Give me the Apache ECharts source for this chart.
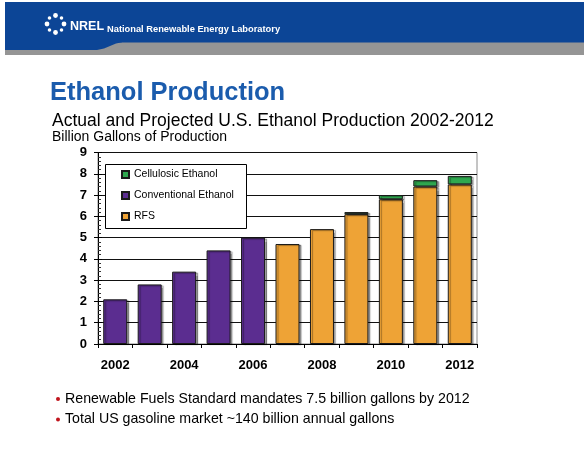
<!DOCTYPE html>
<html>
<head>
<meta charset="utf-8">
<script src="https://cdn.jsdelivr.net/npm/echarts@6/dist/echarts.min.js"></script>
<style>
html,body{margin:0;padding:0;background:#fff;}
#chart{width:584px;height:452px;}
</style>
</head>
<body>
<div id="chart"></div>
<script>
const years = ['2002','2003','2004','2005','2006','2007','2008','2009','2010','2011','2012'];
const conventional = [2.1, 2.8, 3.4, 4.4, 5.0, '-', '-', '-', '-', '-', '-'];
const rfs = ['-', '-', '-', '-', '-', 4.7, 5.4, 6.1, 6.8, 7.4, 7.5];
const cellulosic = ['-', '-', '-', '-', '-', '-', '-', 0.1, 0.2, 0.3, 0.4];
const legendNames = ['Cellulosic Ethanol', 'Conventional Ethanol', 'RFS'];
const titleText = 'Ethanol Production';
const subtitleText = 'Actual and Projected U.S. Ethanol Production 2002-2012';
const unitText = 'Billion Gallons of Production';
const bullets = ['Renewable Fuels Standard mandates 7.5 billion gallons by 2012', 'Total US gasoline market ~140 billion annual gallons'];

const FONT = '"Liberation Sans", Arial, sans-serif';
const chart = echarts.init(document.getElementById('chart'), null, {renderer: 'canvas'});

const barStyle = (c) => ({
  color: c, borderColor: '#1a1a1a', borderWidth: 1,
  shadowColor: 'rgba(0,0,0,0.35)', shadowOffsetX: 2, shadowOffsetY: 1, shadowBlur: 1
});

// NREL logo dots
const logo = [];
const cx = 55.5, cy = 24, r = 8.5;
for (let k = 0; k < 8; k++) {
  const a = k * Math.PI / 4;
  const big = k % 2 === 0;
  logo.push({type: 'circle', z: 10, shape: {cx: cx + r * Math.cos(a), cy: cy + r * Math.sin(a), r: big ? 2.4 : 1.8}, style: {fill: '#fff'}});
}

const option = {
  animation: false,
  backgroundColor: '#fff',
  textStyle: {fontFamily: FONT},
  grid: {left: 98, right: 107, top: 152.5, bottom: 108, show: true, borderColor: '#8a8a8a', borderWidth: 1, containLabel: false},
  legend: {
    data: legendNames, orient: 'vertical', left: 121, top: 168, padding: 0,
    itemWidth: 7, itemHeight: 7, itemGap: 8, icon: 'rect', z: 5,
    textStyle: {fontSize: 10.5, color: '#000', lineHeight: 13, fontFamily: FONT}
  },
  xAxis: {
    type: 'category', data: years, boundaryGap: true,
    axisLine: {lineStyle: {color: '#000', width: 1}},
    axisTick: {show: true, interval: 0, length: 4, lineStyle: {color: '#000'}},
    axisLabel: {interval: 1, color: '#000', fontWeight: 'bold', fontSize: 13, margin: 15, fontFamily: FONT},
    splitLine: {show: false}
  },
  yAxis: [{
    type: 'value', min: 0, max: 9, interval: 1, position: 'left',
    axisLine: {show: true, lineStyle: {color: '#000'}},
    axisTick: {show: true, length: 4, lineStyle: {color: '#000'}},
    axisLabel: {color: '#000', fontWeight: 'bold', fontSize: 13, margin: 11, fontFamily: FONT},
    splitLine: {show: true, lineStyle: {color: '#111', width: 1}}
  }, {
    type: 'value', min: 0, max: 9, interval: 1, position: 'left',
    axisLine: {show: false},
    axisTick: {show: true, inside: true, length: 4, lineStyle: {color: '#000'}},
    minorTick: {show: true, splitNumber: 5, length: 3, lineStyle: {color: '#333'}},
    axisLabel: {show: false},
    splitLine: {show: false}
  }],
  series: [
    {name: 'Conventional Ethanol', type: 'bar', stack: 'total', data: conventional, barWidth: 24, itemStyle: barStyle('#5b2d90')},
    {name: 'RFS', type: 'bar', stack: 'total', data: rfs, barWidth: 24, itemStyle: barStyle('#eea336')},
    {name: 'Cellulosic Ethanol', type: 'bar', stack: 'total', data: cellulosic, barWidth: 24, itemStyle: barStyle('#2fa84f')}
  ],
  graphic: [
    // header band
    {type: 'rect', z: 1, shape: {x: 5, y: 42, width: 579, height: 13}, style: {fill: '#959595'}},
    {type: 'rect', z: 2, shape: {x: 5, y: 2, width: 579, height: 40.5}, style: {fill: '#0c4596'}},
    {type: 'polygon', z: 2, shape: {points: [[5, 42], [5, 50], [97, 50], [104, 48.5], [110, 46], [116, 43.5], [122, 42.2], [122, 42]]}, style: {fill: '#0c4596'}},
    ...logo,
    {type: 'text', z: 10, style: {x: 70, y: 26.5, text: 'NREL', fill: '#fff', font: 'bold 12.5px ' + FONT, verticalAlign: 'middle'}},
    {type: 'text', z: 10, style: {x: 107, y: 29.5, text: 'National Renewable Energy Laboratory', fill: '#fff', font: 'bold 9.3px ' + FONT, verticalAlign: 'middle'}},
    // titles
    {type: 'text', style: {x: 50, y: 92.5, text: titleText, fill: '#1b5cad', font: 'bold 25.5px ' + FONT, verticalAlign: 'middle'}},
    {type: 'text', style: {x: 52, y: 120.7, text: subtitleText, fill: '#000', font: '17.5px ' + FONT, verticalAlign: 'middle'}},
    {type: 'text', style: {x: 52, y: 137, text: unitText, fill: '#000', font: '14px ' + FONT, verticalAlign: 'middle'}},
    // legend box
    {type: 'rect', z: 3, shape: {x: 105.5, y: 164.5, width: 141, height: 64}, style: {fill: '#fff', stroke: '#000', lineWidth: 1}},
    // bullets
    {type: 'circle', shape: {cx: 58, cy: 399, r: 2}, style: {fill: '#c0141c'}},
    {type: 'text', style: {x: 65, y: 399, text: bullets[0], fill: '#000', font: '14.2px ' + FONT, verticalAlign: 'middle'}},
    {type: 'circle', shape: {cx: 58, cy: 419.5, r: 2}, style: {fill: '#c0141c'}},
    {type: 'text', style: {x: 65, y: 419, text: bullets[1], fill: '#000', font: '14.2px ' + FONT, verticalAlign: 'middle'}}
  ]
};
chart.setOption(option);
</script>
</body>
</html>
